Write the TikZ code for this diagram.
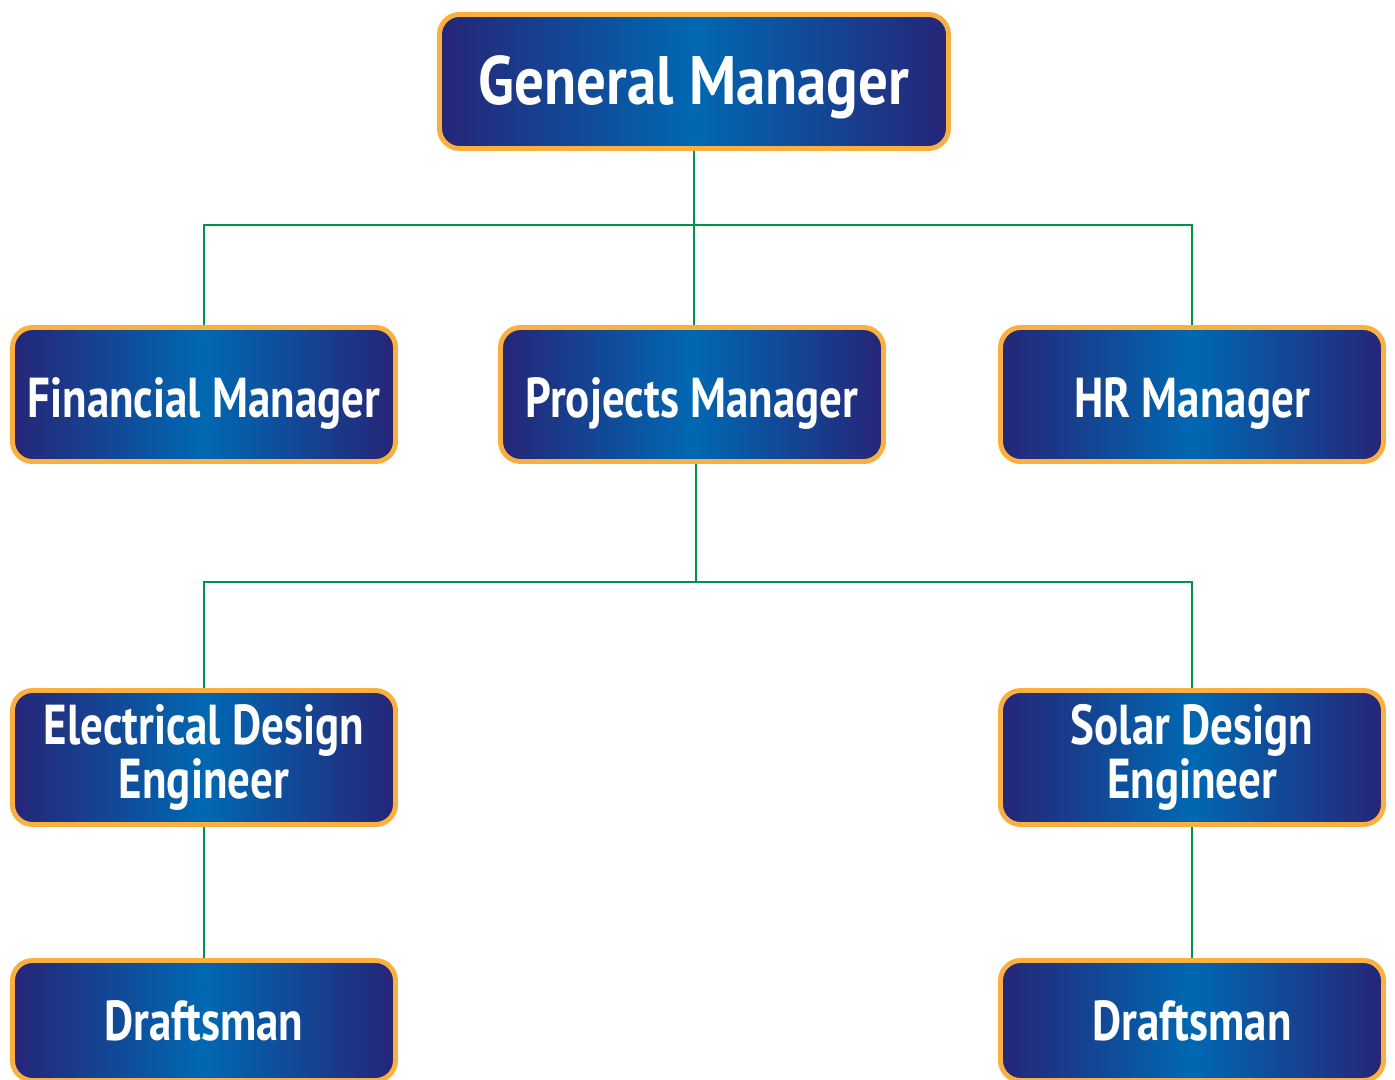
\documentclass[tikz,border=0pt]{standalone}
\usepackage{fontspec}
\setmainfont{PT Sans}[FakeStretch=0.8]
\usepackage{tikz}
\usetikzlibrary{shapes}
\usetikzlibrary{positioning}
\definecolor{navy}{HTML}{262577}
\definecolor{midblue}{HTML}{0068B2}
\definecolor{rim}{HTML}{FBAF3F}
\definecolor{wire}{HTML}{00944A}
\tikzstyle{post}=[rectangle,rounded corners=0.2cm,draw=rim,line width=1.4pt,left color=navy,right color=navy,middle color=midblue,text=white,font=\bfseries\fontsize{16}{15.5}\selectfont,align=center,minimum width=3.83cm,minimum height=1.34cm,inner sep=0mm]
\tikzstyle{oneline}=[post,text height=0.465cm,text depth=0pt]
\tikzstyle{top}=[post,minimum width=5.09cm,text height=0.45cm,text depth=0pt,font=\bfseries\fontsize{19.5}{20}\selectfont\addfontfeature{FakeStretch=0.86}]
\tikzstyle{leaf}=[post,minimum height=1.2cm,text height=0.394cm,text depth=0pt]
\tikzstyle{link}=[draw=wire,line width=0.7pt]

\begin{document}
\begin{tikzpicture}
      \useasboundingbox (0,0) rectangle (13.95,-10.79);
      \node[top] at (6.94,-0.815) (gm) {General Manager};
      \node[oneline] at (2.04,-3.945) (fm) {Financial Manager};
      \node[oneline] at (6.92,-3.945) (pm) {Projects Manager};
      \node[oneline] at (11.92,-3.945) (hr) {HR Manager};
      \node[post] at (2.04,-7.575) (ee) {Electrical Design\\Engineer};
      \node[post] at (11.92,-7.575) (se) {Solar Design\\Engineer};
      \node[leaf] at (2.04,-10.205) (df1) {Draftsman};
      \node[leaf] at (11.92,-10.205) (df2) {Draftsman};
      \coordinate (bus1) at (6.94,-2.25);
      \coordinate (bus2) at (6.96,-5.82);
      \draw[link] (gm.south) -- (gm.south |- pm.north);
      \draw[link] (fm.north) |- (bus1) -| (hr.north);
      \draw[link] (pm.south -| bus2) -- (bus2);
      \draw[link] (ee.north) |- (bus2) -| (se.north);
      \draw[link] (ee) -- (df1);
      \draw[link] (se) -- (df2);
\end{tikzpicture}
\end{document}
